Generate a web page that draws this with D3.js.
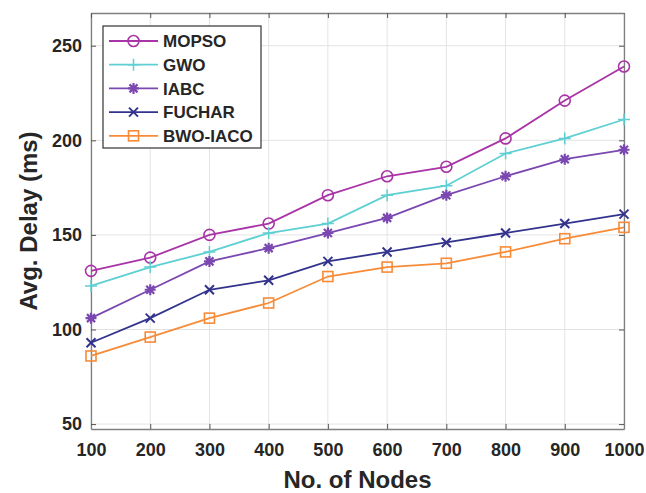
<!DOCTYPE html>
<html>
<head>
<meta charset="utf-8">
<script src="https://cdn.jsdelivr.net/npm/d3@7"></script>
<style>
  body { margin: 0; background: #fff; }
  text { font-family: "Liberation Sans", Arial, sans-serif; font-weight: bold; fill: #262626; }
</style>
</head>
<body>
<div id="chart"></div>
<script>
// data
var nodes = [100, 200, 300, 400, 500, 600, 700, 800, 900, 1000];
var mopso = [131, 138, 150, 156, 171, 181, 186, 201, 221, 239];
var gwo = [123, 133, 141, 151, 156, 171, 176, 193, 201, 211];
var iabc = [106, 121, 136, 143, 151, 159, 171, 181, 190, 195];
var fuchar = [93, 106, 121, 126, 136, 141, 146, 151, 156, 161];
var bwoIaco = [86, 96, 106, 114, 128, 133, 135, 141, 148, 154];
var seriesNames = ["MOPSO", "GWO", "IABC", "FUCHAR", "BWO-IACO"];
var yTicks = [50, 100, 150, 200, 250];

var series = [
  { name: seriesNames[0], values: mopso, color: "#a834a6", marker: "circle" },
  { name: seriesNames[1], values: gwo, color: "#5ecfd3", marker: "plus" },
  { name: seriesNames[2], values: iabc, color: "#7a48b0", marker: "star" },
  { name: seriesNames[3], values: fuchar, color: "#33338e", marker: "cross" },
  { name: seriesNames[4], values: bwoIaco, color: "#f78b38", marker: "square" }
];

var W = 646, H = 493;
var margin = { top: 13, right: 22, bottom: 64, left: 91 },
  width = W - margin.left - margin.right,
  height = H - margin.top - margin.bottom;

var svg = d3.select("#chart").append("svg")
  .attr("width", W).attr("height", H)
  .append("g")
  .attr("transform", "translate(" + margin.left + "," + margin.top + ")");

var x = d3.scaleLinear().domain([100, 1000]).range([0, width]);
var y = d3.scaleLinear().domain([47.4, 267.3]).range([height, 0]);

// grid
svg.append("g").selectAll("line").data(nodes).enter().append("line")
  .attr("x1", d => x(d)).attr("x2", d => x(d))
  .attr("y1", 0).attr("y2", height)
  .attr("stroke", "#e3e3e3").attr("stroke-width", 1);
svg.append("g").selectAll("line").data(yTicks).enter().append("line")
  .attr("x1", 0).attr("x2", width)
  .attr("y1", d => y(d)).attr("y2", d => y(d))
  .attr("stroke", "#e3e3e3").attr("stroke-width", 1);

// axes with inward ticks
var tickLen = 5;
svg.append("g")
  .attr("transform", "translate(0," + height + ")")
  .call(d3.axisBottom(x).tickValues(nodes).tickFormat(d3.format("d"))
    .tickSizeInner(-tickLen).tickSizeOuter(0).tickPadding(14));
svg.append("g")
  .call(d3.axisLeft(y).tickValues(yTicks).tickFormat(d3.format("d"))
    .tickSizeInner(-tickLen).tickSizeOuter(0).tickPadding(9));
svg.append("g")
  .call(d3.axisTop(x).tickValues(nodes).tickSizeInner(-tickLen).tickSizeOuter(0).tickFormat(""));
svg.append("g")
  .attr("transform", "translate(" + width + ",0)")
  .call(d3.axisRight(y).tickValues(yTicks).tickSizeInner(-tickLen).tickSizeOuter(0).tickFormat(""));

svg.selectAll(".domain").attr("stroke", "#7f7f7f").attr("stroke-width", 1.3);
svg.selectAll(".tick line").attr("stroke", "#555");
svg.selectAll(".tick text").style("font-size", "18px").style("font-family", "Liberation Sans, Arial, sans-serif")
  .style("font-weight", "bold").attr("fill", "#262626");

// markers
function drawMarker(g, type, color) {
  if (type === "circle") {
    g.append("circle").attr("r", 5.5).attr("fill", "none").attr("stroke", color).attr("stroke-width", 1.6);
  } else if (type === "square") {
    g.append("rect").attr("x", -5).attr("y", -5).attr("width", 10).attr("height", 10)
      .attr("fill", "none").attr("stroke", color).attr("stroke-width", 1.6);
  } else if (type === "plus") {
    g.append("path").attr("d", "M-6,0H6M0,-6V6").attr("stroke", color).attr("stroke-width", 1.5);
  } else if (type === "cross") {
    g.append("path").attr("d", "M-4.5,-4.5L4.5,4.5M-4.5,4.5L4.5,-4.5").attr("stroke", color).attr("stroke-width", 2);
  } else if (type === "star") {
    g.append("path").attr("d", "M-5.5,0H5.5M0,-5.5V5.5M-4,-4L4,4M-4,4L4,-4").attr("stroke", color).attr("stroke-width", 2.2);
    g.append("circle").attr("r", 2.5).attr("fill", color);
  }
}

var line = d3.line()
  .x((d, i) => x(nodes[i]))
  .y(d => y(d));

series.forEach(function (s) {
  svg.append("path")
    .datum(s.values)
    .attr("d", line)
    .attr("fill", "none")
    .attr("stroke", s.color)
    .attr("stroke-width", 1.8);
  svg.append("g").selectAll("g").data(s.values).enter().append("g")
    .attr("transform", (d, i) => "translate(" + x(nodes[i]) + "," + y(d) + ")")
    .each(function () { drawMarker(d3.select(this), s.marker, s.color); });
});

// legend
var legend = svg.append("g").attr("transform", "translate(12,13)");
legend.append("rect")
  .attr("width", 158).attr("height", 122)
  .attr("fill", "#fff").attr("stroke", "#333").attr("stroke-width", 1.2);
series.forEach(function (s, i) {
  var row = legend.append("g").attr("transform", "translate(0," + (15 + i * 23.7) + ")");
  row.append("line").attr("x1", 6).attr("x2", 55).attr("stroke", s.color).attr("stroke-width", 1.8);
  drawMarker(row.append("g").attr("transform", "translate(30.5,0)"), s.marker, s.color);
  row.append("text").attr("x", 60).attr("y", 6.3).style("font-size", "17px").text(s.name);
});

// axis titles
svg.append("text")
  .attr("x", width / 2).attr("y", height + 59)
  .attr("text-anchor", "middle")
  .style("font-size", "24px")
  .text("No. of Nodes");
svg.append("text")
  .attr("transform", "translate(-54," + height / 2 + ") rotate(-90)")
  .attr("text-anchor", "middle")
  .style("font-size", "24px")
  .text("Avg. Delay (ms)");
</script>
</body>
</html>
